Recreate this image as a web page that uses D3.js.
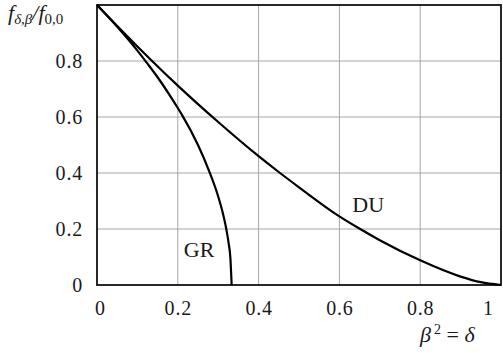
<!DOCTYPE html>
<html>
<head>
<meta charset="utf-8">
<script src="https://cdn.jsdelivr.net/npm/d3@7"></script>
<style>
  html, body { margin: 0; padding: 0; background: #fff; }
  svg { display: block; }
  svg text, .tick text { font-family: "Liberation Serif", "DejaVu Serif", serif !important; fill: #1a1a1a; }
</style>
</head>
<body>
<svg id="chart" width="503" height="353"></svg>
<script>
// ---- data ----
const duDelta = [0, 0.05, 0.1, 0.135, 0.2, 0.3, 0.4, 0.453, 0.5, 0.6, 0.644, 0.7, 0.8, 0.9, 0.95, 1.0];
const duValue = [1, 0.925, 0.852, 0.802, 0.712, 0.582, 0.46, 0.4, 0.349, 0.245, 0.206, 0.16, 0.088, 0.03, 0.01, 0];
const grDelta = [0, 0.05, 0.1, 0.123, 0.15, 0.2, 0.211, 0.25, 0.278, 0.3, 0.31, 0.32, 0.326, 0.33, 0.3333];
const grValue = [1, 0.922, 0.837, 0.794, 0.742, 0.632, 0.606, 0.5, 0.405, 0.316, 0.265, 0.2, 0.148, 0.1, 0];
const xTicks = [0, 0.2, 0.4, 0.6, 0.8, 1];
const yTicks = [0, 0.2, 0.4, 0.6, 0.8];
const xTickLabels = ["0", "0.2", "0.4", "0.6", "0.8", "1"];
const yTickLabels = ["0", "0.2", "0.4", "0.6", "0.8"];
const curveLabels = [
  { name: "DU", d: 0.632, v: 0.26 },
  { name: "GR", d: 0.215, v: 0.1 }
];

// ---- layout ----
const svg = d3.select("#chart");
const pL = 97, pR = 501, pT = 5, pB = 285;
const x = d3.scaleLinear().domain([0, 1]).range([pL, pR]);
const y = d3.scaleLinear().domain([0, 1]).range([pB, pT]);

// grid
const grid = svg.append("g");
grid.selectAll("line.vx").data(xTicks.filter(t => t > 0 && t < 1)).join("line")
  .attr("x1", d => x(d)).attr("x2", d => x(d))
  .attr("y1", pT).attr("y2", pB)
  .attr("stroke", "#a6a6a6").attr("stroke-width", 1);
grid.selectAll("line.hy").data(yTicks.filter(t => t > 0)).join("line")
  .attr("x1", pL).attr("x2", pR)
  .attr("y1", d => y(d)).attr("y2", d => y(d))
  .attr("stroke", "#a6a6a6").attr("stroke-width", 1);

// frame
svg.append("rect")
  .attr("x", pL).attr("y", pT)
  .attr("width", pR - pL).attr("height", pB - pT)
  .attr("fill", "none").attr("stroke", "#111").attr("stroke-width", 1.8);

// x axis labels
const xAxis = d3.axisBottom(x).tickValues(xTicks)
  .tickFormat((d, i) => xTickLabels[i]).tickSize(0).tickPadding(16);
const gx = svg.append("g").attr("transform", `translate(0,${pB})`).call(xAxis)
  .attr("font-family", null).attr("font-size", null);
gx.select(".domain").remove();
gx.selectAll("text")
  .style("font-size", "20px").attr("fill", "#1a1a1a")
  .style("letter-spacing", "0.8px");
gx.selectAll(".tick").filter(d => d === 1).select("text").attr("dx", -13);
gx.selectAll(".tick").filter(d => d === 0).select("text").attr("dx", 3);

// y axis labels
const yAxis = d3.axisLeft(y).tickValues(yTicks)
  .tickFormat((d, i) => yTickLabels[i]).tickSize(0).tickPadding(14);
const gy = svg.append("g").attr("transform", `translate(${pL},0)`).call(yAxis)
  .attr("font-family", null).attr("font-size", null);
gy.select(".domain").remove();
gy.selectAll("text")
  .style("font-size", "20px").attr("fill", "#1a1a1a")
  .style("letter-spacing", "0.8px");

// curves
const line = d3.line().x(d => x(d[0])).y(d => y(d[1])).curve(d3.curveMonotoneX);
svg.append("path")
  .datum(duDelta.map((d, i) => [d, duValue[i]]))
  .attr("d", line).attr("fill", "none").attr("stroke", "#000").attr("stroke-width", 2.2);
svg.append("path")
  .datum(grDelta.map((d, i) => [d, grValue[i]]))
  .attr("d", line).attr("fill", "none").attr("stroke", "#000").attr("stroke-width", 2.2);

// curve labels
svg.selectAll("text.clabel").data(curveLabels).join("text")
  .attr("class", "clabel")
  .attr("x", d => x(d.d)).attr("y", d => y(d.v))
  .style("font-size", "22px")
  .text(d => d.name);

// y title: f_{δ,β} / f_{0,0}
const yt = svg.append("text").attr("x", 8).attr("y", 20).style("font-size", "22px");
yt.append("tspan").style("font-style", "italic").text("f");
yt.append("tspan").attr("dy", 4).style("font-size", "15px").style("font-style", "italic").text("δ,β");
yt.append("tspan").attr("dy", -4).style("font-style", "italic").text("/");
yt.append("tspan").style("font-style", "italic").text("f");
yt.append("tspan").attr("dy", 4).style("font-size", "15px").text("0,0");

// x title: β² = δ
const xt = svg.append("text").attr("x", 420).attr("y", 342).style("font-size", "22px");
xt.append("tspan").style("font-style", "italic").text("β");
xt.append("tspan").attr("dy", -8).attr("dx", 3).style("font-size", "14px").text("2");
xt.append("tspan").attr("dy", 8).text(" = ");
xt.append("tspan").style("font-style", "italic").text("δ");
</script>
</body>
</html>
